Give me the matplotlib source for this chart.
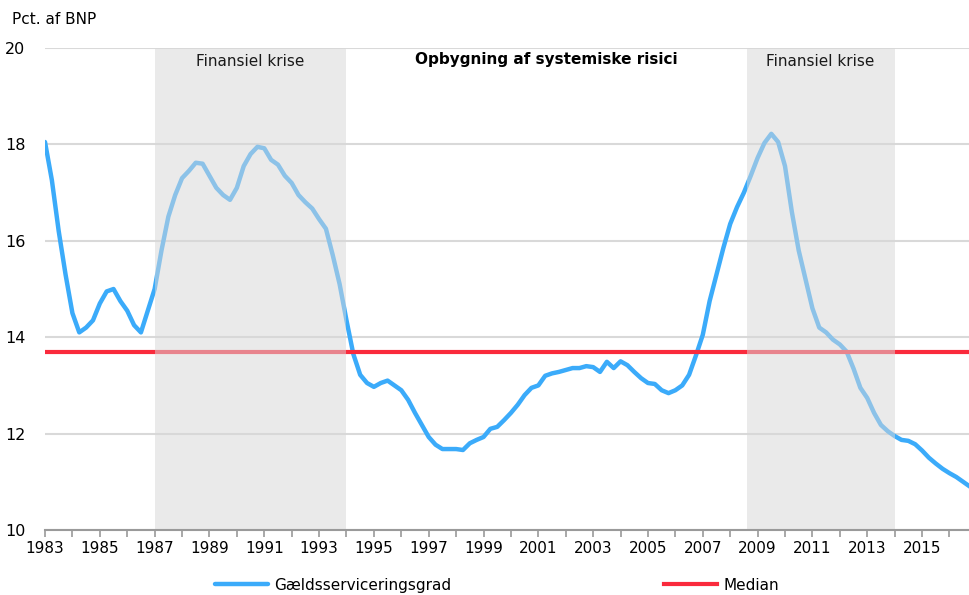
import numpy as np
import matplotlib
matplotlib.use("Agg")
import matplotlib.pyplot as plt
from matplotlib.ticker import FixedLocator, MultipleLocator

# quarterly observations, 1983Q1 - 2016Q4
years = np.arange(1983, 2017, 0.25)
debt_service = [
    18.05, 17.26, 16.20, 15.30,   # 1983
    14.50, 14.10, 14.20, 14.35,   # 1984
    14.70, 14.95, 15.00, 14.75,   # 1985
    14.55, 14.25, 14.10, 14.55,   # 1986
    15.00, 15.80, 16.50, 16.95,   # 1987
    17.30, 17.45, 17.62, 17.60,   # 1988
    17.35, 17.10, 16.95, 16.85,   # 1989
    17.10, 17.55, 17.80, 17.95,   # 1990
    17.92, 17.68, 17.58, 17.35,   # 1991
    17.20, 16.95, 16.80, 16.67,   # 1992
    16.45, 16.25, 15.70, 15.10,   # 1993
    14.35, 13.65, 13.22, 13.05,   # 1994
    12.97, 13.05, 13.10, 13.00,   # 1995
    12.90, 12.70, 12.43, 12.18,   # 1996
    11.93, 11.77, 11.68, 11.68,   # 1997
    11.68, 11.66, 11.80, 11.87,   # 1998
    11.93, 12.10, 12.14, 12.28,   # 1999
    12.43, 12.60, 12.80, 12.95,   # 2000
    13.00, 13.20, 13.25, 13.28,   # 2001
    13.32, 13.36, 13.36, 13.40,   # 2002
    13.38, 13.28, 13.49, 13.36,   # 2003
    13.50, 13.42, 13.28, 13.15,   # 2004
    13.05, 13.03, 12.90, 12.84,   # 2005
    12.90, 13.00, 13.22, 13.62,   # 2006
    14.05, 14.75, 15.30, 15.85,   # 2007
    16.35, 16.70, 17.00, 17.35,   # 2008
    17.72, 18.03, 18.22, 18.05,   # 2009
    17.55, 16.60, 15.80, 15.20,   # 2010
    14.60, 14.20, 14.10, 13.95,   # 2011
    13.85, 13.70, 13.35, 12.95,   # 2012
    12.74, 12.43, 12.18, 12.05,   # 2013
    11.95, 11.87, 11.85, 11.78,   # 2014
    11.65, 11.50, 11.38, 11.27,   # 2015
    11.18, 11.10, 11.00, 10.90,   # 2016
]
median = 13.7

crisis_periods = [(1987.0, 1994.0), (2008.6, 2014.0)]
crisis_label = "Finansiel krise"
buildup_label = "Opbygning af systemiske risici"
year_labels = list(range(1983, 2017, 2))

blue = "#3babfa"
red = "#fa2a3c"

plt.rcParams["font.family"] = ["DejaVu Sans"]

fig = plt.figure(figsize=(9.7, 5.95), dpi=100)
ax = fig.add_axes([0.0464, 0.1092, 0.9536, 0.8101])

ax.plot(years[:len(debt_service)], debt_service, color=blue, linewidth=3.2,
        solid_capstyle="round", label="Gældsserviceringsgrad", zorder=3)
ax.axhline(median, color=red, linewidth=3.0, label="Median", zorder=3)

for start, end in crisis_periods:
    ax.axvspan(start, end, color="#d8d8d8", alpha=0.52, linewidth=0, zorder=4)
    ax.text((start + end) / 2, 19.72, crisis_label, ha="center", va="center",
            fontsize=11, color="#1a1a1a", zorder=5)

ax.text((crisis_periods[0][1] + crisis_periods[1][0]) / 2, 19.76, buildup_label,
        ha="center", va="center", fontsize=11, fontweight="bold", zorder=5)

ax.set_xlim(1983, 2016.75)
ax.set_ylim(10, 20)
ax.xaxis.set_major_locator(FixedLocator(year_labels))
ax.xaxis.set_minor_locator(MultipleLocator(1))
ax.yaxis.set_major_locator(MultipleLocator(2))
ax.tick_params(axis="x", which="both", length=5, width=1.2, color="#9a9a9a",
               labelsize=11, pad=3)
ax.tick_params(axis="y", length=0, labelsize=11.5, pad=14)

for side in ["top", "right", "left"]:
    ax.spines[side].set_visible(False)
ax.spines["bottom"].set_color("#9a9a9a")
ax.spines["bottom"].set_linewidth(1.5)
ax.spines["bottom"].set_zorder(6)

ax.grid(axis="y", color="#d9d9d9", linewidth=1.5, zorder=0)
ax.set_axisbelow(True)

fig.text(0.012, 0.968, "Pct. af BNP", fontsize=11, ha="left", va="center")

fig.legend(loc="center left", bbox_to_anchor=(0.2216, 0.0168), ncol=2,
           frameon=False, fontsize=11, borderpad=0, handlelength=3.5,
           handletextpad=0.4, columnspacing=13.9, borderaxespad=0)

fig.savefig("out.png", dpi=100)
